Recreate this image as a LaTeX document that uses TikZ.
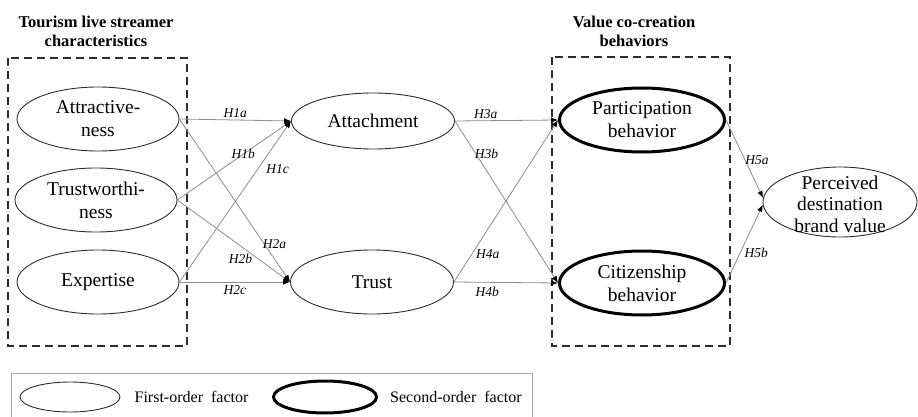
\documentclass[tikz,border=0pt]{standalone}
\usepackage{fontspec}
\setmainfont{Liberation Serif}
\usepackage{tikz}
\usepackage{xcolor}
\usetikzlibrary{arrows.meta,positioning,shapes.geometric}
\definecolor{darkline}{RGB}{45,45,45}
\definecolor{pathgray}{RGB}{140,140,140}

\begin{document}
\begin{tikzpicture}[x=1pt,y=-1pt,
		factor/.style={ellipse,
			draw=darkline,
			line width=0.9pt,
			inner sep=0pt,
			minimum width=162pt,
			minimum height=64pt,
			align=center,
			font=\fontsize{19.5}{23}\selectfont},
		second/.style={factor,
			draw=black,
			line width=3pt,
			minimum width=165pt},
		path/.style={draw=pathgray,
			line width=0.8pt,
			-{Latex[length=7pt,width=5.5pt,black]}},
		hyp/.style={font=\fontsize{13.5}{15}\selectfont\itshape,
			inner sep=1pt},
		dashbox/.style={draw=darkline,
			line width=1.5pt,
			dash pattern=on 8pt off 5pt},
		heading/.style={align=center,
			font=\fontsize{16.5}{19}\selectfont\bfseries}]
	\useasboundingbox (0,0) rectangle (918,417);

	% titres des blocs
	\node[heading] (titleL) at (96,31) {Tourism live streamer\\characteristics};
	\node[heading] (titleR) at (634,31) {Value co-creation\\behaviors};

	% blocs en pointilles
	\draw[dashbox] (8,58) rectangle (187,346);
	\draw[dashbox] (552,57) rectangle (730,346);

	% facteurs
	\node[factor] (attr) at (98,119) {Attractive-\\ness};
	\node[factor] (trw) at (96,200) {Trustworthi-\\ness};
	\node[factor] (exp) at (98,282) {Expertise};
	\node[factor, minimum width=163pt, minimum height=56pt] (attach) at (373,121) {Attachment};
	\node[factor, minimum width=163pt] (trust) at (372,282) {Trust};
	\node[second] (part) at (642,120) {Participation\\behavior};
	\node[second] (citi) at (642,283) {Citizenship\\behavior};
	\node[factor, minimum width=154pt, minimum height=70pt] (pbv) at (840,202) {};
	\node[align=center, inner sep=0pt,
		font=\fontsize{19.5}{21.5}\selectfont] (pbvtext) at (840,204) {Perceived\\destination\\brand value};

	% hypotheses
	\draw[path] (attr.east) -- node[hyp, pos=.5, above=1pt] (h1a) {H1a} (attach.west);
	\draw[path] (trw.east) -- node[hyp, pos=.58] (h1b) {H1b} (attach.west);
	\draw[path] (exp.east) -- node[hyp, pos=.70, xshift=20pt] (h1c) {H1c} (attach.west);
	\draw[path] (attr.east) -- node[hyp, pos=.77, xshift=10pt] (h2a) {H2a} (trust.west);
	\draw[path] (trw.east) -- node[hyp, pos=.56, yshift=-13pt] (h2b) {H2b} (trust.west);
	\draw[path] (exp.east) -- node[hyp, pos=.5, below=2pt] (h2c) {H2c} (trust.west);
	\draw[path] (attach.east) -- node[hyp, pos=.3, above=1pt] (h3a) {H3a} (part.west);
	\draw[path] (attach.east) -- node[hyp, pos=.2, xshift=11pt] (h3b) {H3b} (citi.west);
	\draw[path] (trust.east) -- node[hyp, pos=.17, xshift=16pt] (h4a) {H4a} (part.west);
	\draw[path] (trust.east) -- node[hyp, pos=.32, below=3pt] (h4b) {H4b} (citi.west);
	\draw[path] (part.east) -- node[hyp, pos=.51, xshift=12pt] (h5a) {H5a} (pbv.177.5);
	\draw[path] (citi.east) -- node[hyp, pos=.385, xshift=16pt] (h5b) {H5b} (pbv.182.5);

	% legende
	\draw[draw=gray!70, line width=0.8pt] (11,430) -- (11,373) -- (532,373) -- (532,430);
	\node[factor, minimum width=100pt, minimum height=30pt] (legfirst) at (70,397) {};
	\node[right=14pt of legfirst, inner sep=0pt,
		font=\fontsize{16}{19}\selectfont] (legfirsttext) {First-order\ \ factor};
	\node[second, minimum width=103pt, minimum height=32pt] (legsecond) at (325,397) {};
	\node[right=12pt of legsecond, inner sep=0pt,
		font=\fontsize{16}{19}\selectfont] (legsecondtext) {Second-order\ \ factor};
\end{tikzpicture}
\end{document}
